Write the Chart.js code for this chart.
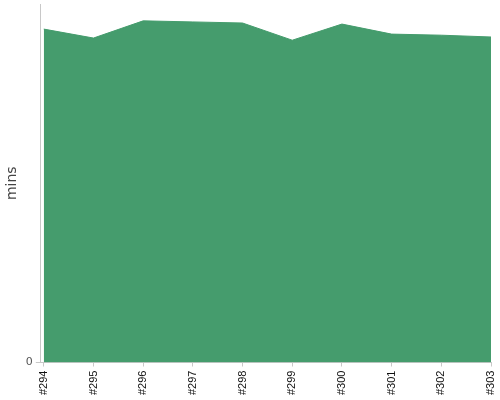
<!DOCTYPE html>
<html>
<head>
<meta charset="utf-8">
<script src="https://cdn.jsdelivr.net/npm/chart.js@4/dist/chart.umd.min.js"></script>
<style>
  html, body { margin: 0; padding: 0; background: #fff; }
  #wrap { width: 500px; height: 400px; }
</style>
</head>
<body>
<div id="wrap"><canvas id="buildChart"></canvas></div>
<script>
// build numbers and their durations (mins)
const builds = ['#294', '#295', '#296', '#297', '#298', '#299', '#300', '#301', '#302', '#303'];
const durations = [9.30, 9.05, 9.53, 9.50, 9.47, 8.99, 9.44, 9.16, 9.13, 9.08];
const yTicks = [0];

const green = '#459c6d';
const axisGrey = '#c8c8c8';

new Chart(document.getElementById('buildChart'), {
  type: 'line',
  data: {
    datasets: [{
      label: 'mins',
      data: durations.map((d, i) => ({ x: i, y: d })),
      fill: 'origin',
      backgroundColor: green,
      borderColor: green,
      borderWidth: 1,
      pointRadius: 0,
      tension: 0,
    }]
  },
  options: {
    responsive: true,
    maintainAspectRatio: false,
    animation: false,
    layout: { padding: { top: 4, right: 0, left: 4, bottom: 1 } },
    plugins: { legend: { display: false }, tooltip: { enabled: false } },
    scales: {
      x: {
        type: 'linear',
        min: -0.06,
        max: builds.length - 1,
        afterBuildTicks: scale => { scale.ticks = builds.map((b, i) => ({ value: i })); },
        afterFit: scale => { scale.paddingRight = 9; },
        grid: { drawOnChartArea: false, drawTicks: true, tickLength: 4, color: axisGrey },
        border: { color: axisGrey },
        ticks: {
          color: '#111',
          font: { family: 'Liberation Sans', size: 11 },
          minRotation: 90,
          maxRotation: 90,
          autoSkip: false,
          padding: 4,
          callback: v => builds[v],
        }
      },
      y: {
        min: 0,
        max: 10,
        afterBuildTicks: scale => { scale.ticks = yTicks.map(v => ({ value: v })); },
        afterFit: scale => { scale.paddingTop = 0; },
        grid: { drawOnChartArea: false, drawTicks: true, tickLength: 5, color: axisGrey },
        border: { color: axisGrey },
        ticks: {
          color: '#555',
          font: { family: 'DejaVu Sans', size: 11 },
          padding: 3,
        },
        title: {
          display: true,
          text: 'mins',
          color: '#444',
          font: { family: 'DejaVu Sans', size: 14 },
          padding: { top: 0, bottom: 2 },
        }
      }
    }
  }
});
</script>
</body>
</html>
